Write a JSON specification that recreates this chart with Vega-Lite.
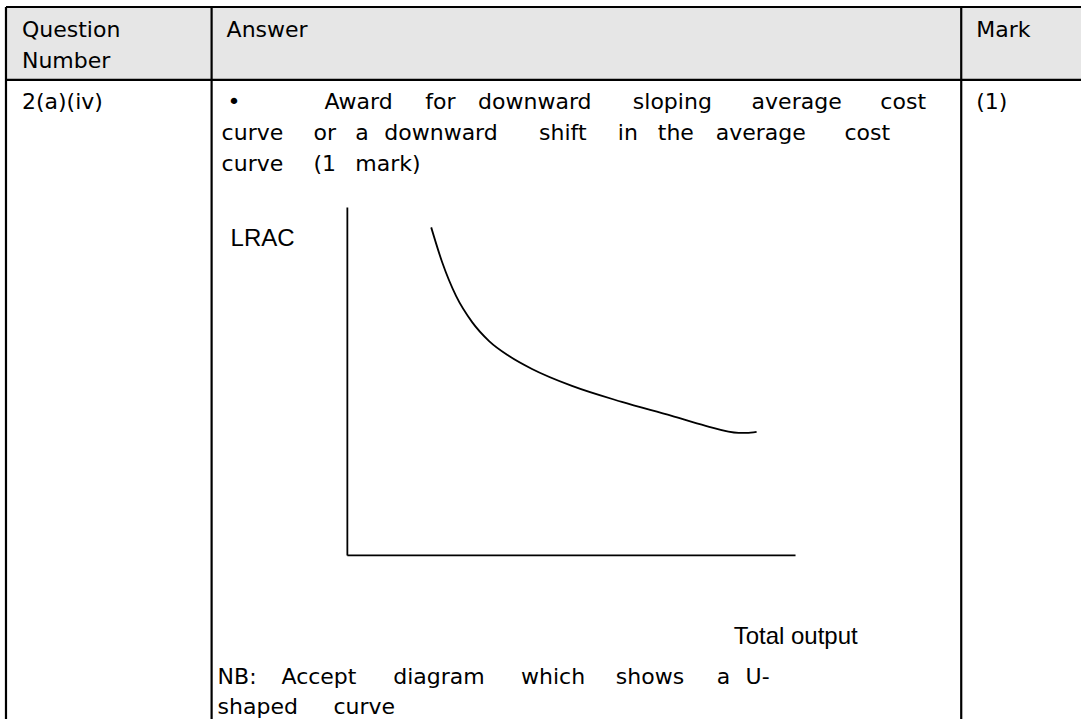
{
  "$schema": "https://vega.github.io/schema/vega-lite/v6.json",
  "width": 1083,
  "height": 721,
  "autosize": {"type": "fit", "contains": "padding"},
  "padding": 0,
  "background": "white",
  "config": {"view": {"stroke": null}},
  "datasets": {
    "header": [{"x": 6, "x2": 1083, "y": 7, "y2": 80}],
    "table": [
      {"x": 6, "x2": 1083, "y": 7, "y2": 7},
      {"x": 6, "x2": 1083, "y": 80, "y2": 80},
      {"x": 6, "x2": 6, "y": 7, "y2": 721},
      {"x": 212, "x2": 212, "y": 7, "y2": 721},
      {"x": 963, "x2": 963, "y": 7, "y2": 721}
    ],
    "axes": [
      {"x": 348, "x2": 348, "y": 208, "y2": 557},
      {"x": 348, "x2": 797, "y": 557, "y2": 557}
    ],
    "curve": [
      {"x": 432, "y": 228},
      {"x": 443, "y": 263},
      {"x": 457, "y": 297},
      {"x": 473, "y": 323},
      {"x": 490, "y": 342},
      {"x": 510, "y": 357},
      {"x": 533, "y": 370},
      {"x": 573, "y": 387},
      {"x": 623, "y": 403},
      {"x": 673, "y": 417},
      {"x": 707, "y": 427},
      {"x": 740, "y": 434},
      {"x": 748, "y": 434},
      {"x": 758, "y": 433}
    ],
    "body": [
      {"x": 22, "y": 37, "text": "Question"},
      {"x": 22, "y": 68, "text": "Number"},
      {"x": 227, "y": 37, "text": "Answer"},
      {"x": 978, "y": 37, "text": "Mark"},
      {"x": 22, "y": 109, "text": "2(a)(iv)"},
      {"x": 978, "y": 109, "text": "(1)"},
      {"x": 228, "y": 109, "text": "•"},
      {"x": 325, "y": 109, "text": "Award"},
      {"x": 426, "y": 109, "text": "for"},
      {"x": 479, "y": 109, "text": "downward"},
      {"x": 634, "y": 109, "text": "sloping"},
      {"x": 753, "y": 109, "text": "average"},
      {"x": 882, "y": 109, "text": "cost"},
      {"x": 222, "y": 140, "text": "curve"},
      {"x": 314, "y": 140, "text": "or"},
      {"x": 356, "y": 140, "text": "a"},
      {"x": 385, "y": 140, "text": "downward"},
      {"x": 540, "y": 140, "text": "shift"},
      {"x": 619, "y": 140, "text": "in"},
      {"x": 659, "y": 140, "text": "the"},
      {"x": 717, "y": 140, "text": "average"},
      {"x": 846, "y": 140, "text": "cost"},
      {"x": 222, "y": 171, "text": "curve"},
      {"x": 314, "y": 171, "text": "(1"},
      {"x": 356, "y": 171, "text": "mark)"},
      {"x": 218, "y": 686, "text": "NB:"},
      {"x": 282, "y": 686, "text": "Accept"},
      {"x": 394, "y": 686, "text": "diagram"},
      {"x": 522, "y": 686, "text": "which"},
      {"x": 617, "y": 686, "text": "shows"},
      {"x": 718, "y": 686, "text": "a"},
      {"x": 747, "y": 686, "text": "U-"},
      {"x": 218, "y": 716, "text": "shaped"},
      {"x": 334, "y": 716, "text": "curve"}
    ],
    "labels": [
      {"x": 231, "y": 247, "text": "LRAC"},
      {"x": 735, "y": 646, "text": "Total output"}
    ]
  },
  "layer": [
    {
      "data": {"name": "header"},
      "mark": {"type": "rect", "fill": "#e6e6e6"},
      "encoding": {
        "x": {"field": "x", "type": "quantitative", "scale": {"domain": [0, 1083], "nice": false, "zero": false}, "axis": null},
        "x2": {"field": "x2"},
        "y": {"field": "y", "type": "quantitative", "scale": {"domain": [0, 721], "nice": false, "zero": false, "reverse": true}, "axis": null},
        "y2": {"field": "y2"}
      }
    },
    {
      "data": {"name": "table"},
      "mark": {"type": "rule", "color": "black", "strokeWidth": 2.2},
      "encoding": {
        "x": {"field": "x", "type": "quantitative", "scale": {"domain": [0, 1083], "nice": false, "zero": false}, "axis": null},
        "x2": {"field": "x2"},
        "y": {"field": "y", "type": "quantitative", "scale": {"domain": [0, 721], "nice": false, "zero": false, "reverse": true}, "axis": null},
        "y2": {"field": "y2"}
      }
    },
    {
      "data": {"name": "axes"},
      "mark": {"type": "rule", "color": "black", "strokeWidth": 1.8},
      "encoding": {
        "x": {"field": "x", "type": "quantitative", "scale": {"domain": [0, 1083], "nice": false, "zero": false}, "axis": null},
        "x2": {"field": "x2"},
        "y": {"field": "y", "type": "quantitative", "scale": {"domain": [0, 721], "nice": false, "zero": false, "reverse": true}, "axis": null},
        "y2": {"field": "y2"}
      }
    },
    {
      "data": {"name": "curve"},
      "mark": {"type": "line", "color": "black", "strokeWidth": 1.8, "interpolate": "monotone"},
      "encoding": {
        "x": {"field": "x", "type": "quantitative", "scale": {"domain": [0, 1083], "nice": false, "zero": false}, "axis": null},
        "y": {"field": "y", "type": "quantitative", "scale": {"domain": [0, 721], "nice": false, "zero": false, "reverse": true}, "axis": null}
      }
    },
    {
      "data": {"name": "body"},
      "mark": {"type": "text", "align": "left", "baseline": "alphabetic", "font": "DejaVu Sans", "fontSize": 22, "color": "black"},
      "encoding": {
        "x": {"field": "x", "type": "quantitative", "scale": {"domain": [0, 1083], "nice": false, "zero": false}, "axis": null},
        "y": {"field": "y", "type": "quantitative", "scale": {"domain": [0, 721], "nice": false, "zero": false, "reverse": true}, "axis": null},
        "text": {"field": "text"}
      }
    },
    {
      "data": {"name": "labels"},
      "mark": {"type": "text", "align": "left", "baseline": "alphabetic", "font": "Liberation Sans", "fontSize": 24, "color": "black"},
      "encoding": {
        "x": {"field": "x", "type": "quantitative", "scale": {"domain": [0, 1083], "nice": false, "zero": false}, "axis": null},
        "y": {"field": "y", "type": "quantitative", "scale": {"domain": [0, 721], "nice": false, "zero": false, "reverse": true}, "axis": null},
        "text": {"field": "text"}
      }
    }
  ]
}
